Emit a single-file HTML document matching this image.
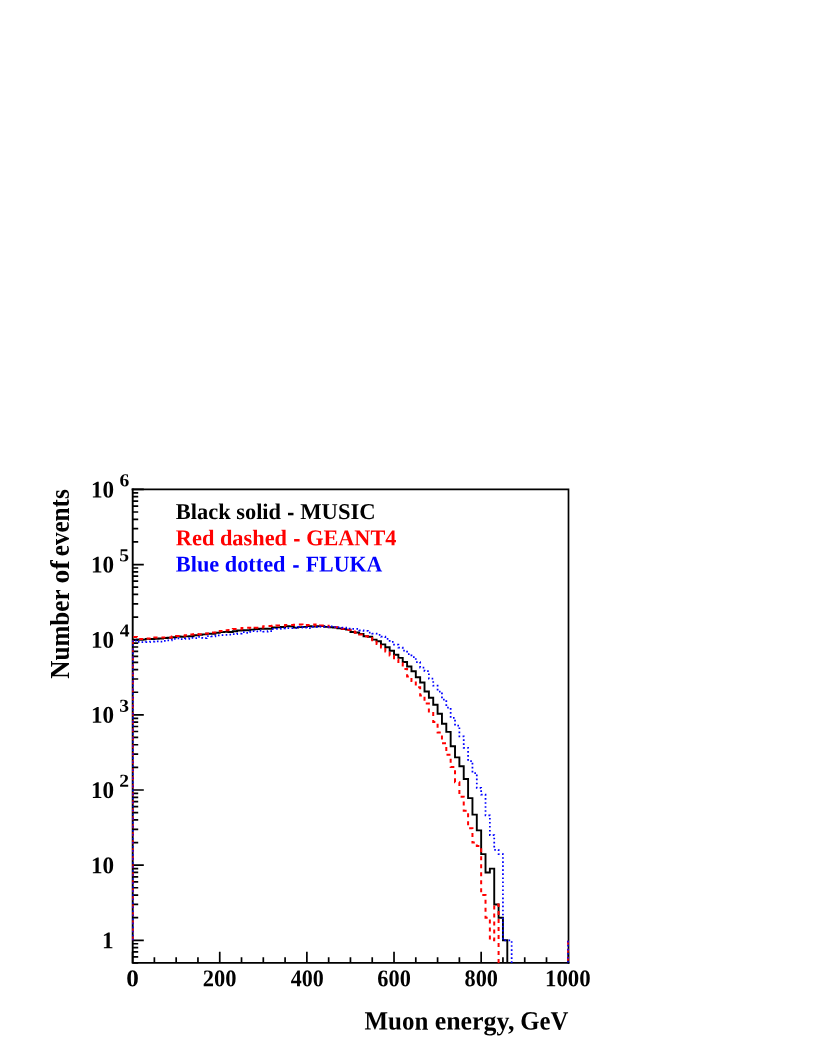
<!DOCTYPE html>
<html lang="en">
<head>
<meta charset="utf-8">
<title>Muon energy spectrum</title>
<style>
html,body{margin:0;padding:0;background:#fff;}
body{width:817px;height:1058px;overflow:hidden;font-family:"Liberation Serif",serif;}
svg{display:block;}
</style>
</head>
<body>
<svg width="817" height="1058" viewBox="0 0 817 1058">
<rect width="817" height="1058" fill="#fff"/>
<g fill="none" stroke="#000" stroke-width="1.9" stroke-linecap="butt">
<path d="M131.65 489.3 H568.5 V963.87" stroke-width="1.7"/>
<path d="M132.7 488.4 V962.92 H569.4" stroke-linejoin="miter"/>
<path d="M132.6 962.92h5.6M132.6 956.97h5.6M132.6 951.94h5.6M132.6 947.58h5.6M132.6 943.74h5.6M132.6 940.3h11.2M132.6 917.68h5.6M132.6 904.44h5.6M132.6 895.06h5.6M132.6 887.77h5.6M132.6 881.82h5.6M132.6 876.79h5.6M132.6 872.43h5.6M132.6 868.59h5.6M132.6 865.15h11.2M132.6 842.53h5.6M132.6 829.29h5.6M132.6 819.91h5.6M132.6 812.62h5.6M132.6 806.67h5.6M132.6 801.64h5.6M132.6 797.28h5.6M132.6 793.44h5.6M132.6 790h11.2M132.6 767.38h5.6M132.6 754.14h5.6M132.6 744.76h5.6M132.6 737.47h5.6M132.6 731.52h5.6M132.6 726.49h5.6M132.6 722.13h5.6M132.6 718.29h5.6M132.6 714.85h11.2M132.6 692.23h5.6M132.6 678.99h5.6M132.6 669.61h5.6M132.6 662.32h5.6M132.6 656.37h5.6M132.6 651.34h5.6M132.6 646.98h5.6M132.6 643.14h5.6M132.6 639.7h11.2M132.6 617.08h5.6M132.6 603.84h5.6M132.6 594.46h5.6M132.6 587.17h5.6M132.6 581.22h5.6M132.6 576.19h5.6M132.6 571.83h5.6M132.6 567.99h5.6M132.6 564.55h11.2M132.6 541.93h5.6M132.6 528.69h5.6M132.6 519.31h5.6M132.6 512.02h5.6M132.6 506.07h5.6M132.6 501.04h5.6M132.6 496.68h5.6M132.6 492.84h5.6M132.6 489.4h11.2" stroke-width="1.7"/>
<path d="M132.6 962.92v-11.2M154.38 962.92v-5.6M176.17 962.92v-5.6M197.95 962.92v-5.6M219.74 962.92v-11.2M241.52 962.92v-5.6M263.31 962.92v-5.6M285.09 962.92v-5.6M306.88 962.92v-11.2M328.66 962.92v-5.6M350.45 962.92v-5.6M372.23 962.92v-5.6M394.02 962.92v-11.2M415.8 962.92v-5.6M437.59 962.92v-5.6M459.38 962.92v-5.6M481.16 962.92v-11.2M502.94 962.92v-5.6M524.73 962.92v-5.6M546.51 962.92v-5.6M568.3 962.92v-11.2" stroke-width="1.7"/>
</g>
<g fill="none" stroke-linejoin="miter" stroke-linecap="butt">
<path d="M132.6 639.97 L136.96 639.97 L136.96 639.64 L141.31 639.64 L141.31 639.61 L145.67 639.61 L145.67 638.84 L150.03 638.84 L150.03 639.02 L154.38 639.02 L154.38 638.7 L158.74 638.7 L158.74 638.47 L163.1 638.47 L163.1 637.94 L167.46 637.94 L167.46 637.75 L171.81 637.75 L171.81 637.26 L176.17 637.26 L176.17 636.56 L180.53 636.56 L180.53 636.78 L184.88 636.78 L184.88 636.34 L189.24 636.34 L189.24 636.19 L193.6 636.19 L193.6 635.31 L197.95 635.31 L197.95 634.8 L202.31 634.8 L202.31 634.38 L206.67 634.38 L206.67 633.68 L211.03 633.68 L211.03 633.87 L215.38 633.87 L215.38 632.68 L219.74 632.68 L219.74 632.09 L224.1 632.09 L224.1 631.89 L228.45 631.89 L228.45 632.02 L232.81 632.02 L232.81 631.26 L237.17 631.26 L237.17 630.51 L241.52 630.51 L241.52 630.22 L245.88 630.22 L245.88 630.23 L250.24 630.23 L250.24 629.59 L254.6 629.59 L254.6 629.01 L258.95 629.01 L258.95 628.77 L263.31 628.77 L263.31 628.7 L267.67 628.7 L267.67 628.76 L272.02 628.76 L272.02 627.48 L276.38 627.48 L276.38 627.35 L280.74 627.35 L280.74 626.99 L285.09 626.99 L285.09 626.24 L289.45 626.24 L289.45 626.36 L293.81 626.36 L293.81 627.59 L298.17 627.59 L298.17 627.15 L302.52 627.15 L302.52 626.86 L306.88 626.86 L306.88 626.09 L311.24 626.09 L311.24 626.46 L315.59 626.46 L315.59 626.31 L319.95 626.31 L319.95 626.17 L324.31 626.17 L324.31 626.83 L328.66 626.83 L328.66 627.18 L333.02 627.18 L333.02 627.52 L337.38 627.52 L337.38 628.4 L341.74 628.4 L341.74 629 L346.09 629 L346.09 629.6 L350.45 629.6 L350.45 632 L354.81 632 L354.81 632.5 L359.16 632.5 L359.16 633.9 L363.52 633.9 L363.52 636.3 L367.88 636.3 L367.88 636.7 L372.23 636.7 L372.23 639.6 L376.59 639.6 L376.59 641.2 L380.95 641.2 L380.95 644.4 L385.31 644.4 L385.31 647.3 L389.66 647.3 L389.66 650.7 L394.02 650.7 L394.02 654.7 L398.38 654.7 L398.38 657.9 L402.73 657.9 L402.73 662 L407.09 662 L407.09 666.5 L411.45 666.5 L411.45 671.3 L415.8 671.3 L415.8 677.3 L420.16 677.3 L420.16 682.5 L424.52 682.5 L424.52 691.5 L428.88 691.5 L428.88 697.8 L433.23 697.8 L433.23 704.8 L437.59 704.8 L437.59 713.8 L441.95 713.8 L441.95 723.8 L446.3 723.8 L446.3 731.9 L450.66 731.9 L450.66 746.2 L455.02 746.2 L455.02 757.4 L459.38 757.4 L459.38 766.2 L463.73 766.2 L463.73 779 L468.09 779 L468.09 798.1 L472.45 798.1 L472.45 814.64 L476.8 814.64 L476.8 830.4 L481.16 830.4 L481.16 854.17 L485.52 854.17 L485.52 872.43 L489.87 872.43 L489.87 868.59 L494.23 868.59 L494.23 904.44 L498.59 904.44 L498.59 917.68 L502.94 917.68 L502.94 940.3 L507.3 940.3 L507.3 962.92" stroke="#000" stroke-width="1.9"/>
<path d="M132.95 940.3V637" stroke="#f00" stroke-width="1.45" stroke-dasharray="4.0 4.0"/>
<path d="M132.6 637 L136.96 637 L136.96 639.11 L141.31 639.11 L141.31 639.05 L145.67 639.05 L145.67 638.58 L150.03 638.58 L150.03 638.46 L154.38 638.46 L154.38 637.49 L158.74 637.49 L158.74 637.6 L163.1 637.6 L163.1 637.45 L167.46 637.45 L167.46 637.52 L171.81 637.52 L171.81 636.54 L176.17 636.54 L176.17 635.88 L180.53 635.88 L180.53 635.87 L184.88 635.87 L184.88 635.37 L189.24 635.37 L189.24 634.6 L193.6 634.6 L193.6 634.11 L197.95 634.11 L197.95 634.21 L202.31 634.21 L202.31 633.49 L206.67 633.49 L206.67 633.46 L211.03 633.46 L211.03 632.49 L215.38 632.49 L215.38 631.6 L219.74 631.6 L219.74 630.99 L224.1 630.99 L224.1 630.15 L228.45 630.15 L228.45 629.97 L232.81 629.97 L232.81 629.06 L237.17 629.06 L237.17 629.14 L241.52 629.14 L241.52 628 L245.88 628 L245.88 627.81 L250.24 627.81 L250.24 628.26 L254.6 628.26 L254.6 627.87 L258.95 627.87 L258.95 627.39 L263.31 627.39 L263.31 626.14 L267.67 626.14 L267.67 626.05 L272.02 626.05 L272.02 625.87 L276.38 625.87 L276.38 625.53 L280.74 625.53 L280.74 625.63 L285.09 625.63 L285.09 625.01 L289.45 625.01 L289.45 624.9 L293.81 624.9 L293.81 624.74 L298.17 624.74 L298.17 624.59 L302.52 624.59 L302.52 625.4 L306.88 625.4 L306.88 624.98 L311.24 624.98 L311.24 624.56 L315.59 624.56 L315.59 625.72 L319.95 625.72 L319.95 625.51 L324.31 625.51 L324.31 625.77 L328.66 625.77 L328.66 627.02 L333.02 627.02 L333.02 627.22 L337.38 627.22 L337.38 628.14 L341.74 628.14 L341.74 628.76 L346.09 628.76 L346.09 629.97 L350.45 629.97 L350.45 631.59 L354.81 631.59 L354.81 632.71 L359.16 632.71 L359.16 634.5 L363.52 634.5 L363.52 636.3 L367.88 636.3 L367.88 636.8 L372.23 636.8 L372.23 640.3 L376.59 640.3 L376.59 644 L380.95 644 L380.95 647.6 L385.31 647.6 L385.31 651.5 L389.66 651.5 L389.66 655.5 L394.02 655.5 L394.02 659.5 L398.38 659.5 L398.38 663.2 L402.73 663.2 L402.73 668.9 L407.09 668.9 L407.09 676.5 L411.45 676.5 L411.45 681 L415.8 681 L415.8 687.2 L420.16 687.2 L420.16 695.5 L424.52 695.5 L424.52 703.6 L428.88 703.6 L428.88 711.5 L433.23 711.5 L433.23 722 L437.59 722 L437.59 732.6 L441.95 732.6 L441.95 743.3 L446.3 743.3 L446.3 754.85 L450.66 754.85 L450.66 767 L455.02 767 L455.02 782.3 L459.38 782.3 L459.38 796.75 L463.73 796.75 L463.73 810.7 L468.09 810.7 L468.09 828.2 L472.45 828.2 L472.45 842.53 L476.8 842.53 L476.8 845.97 L481.16 845.97 L481.16 895.06 L485.52 895.06 L485.52 917.68 L489.87 917.68 L489.87 940.3 L494.23 940.3 L494.23 904.44 L498.59 904.44 L498.59 962.92" stroke="#f00" stroke-width="2.0" stroke-dasharray="4.0 4.0" stroke-dashoffset="7.3"/>
<path d="M132.95 940.3V640.55" stroke="#00f" stroke-width="1.45" stroke-dasharray="1.6 2.43"/>
<path d="M132.6 640.55 L136.96 640.55 L136.96 641.8 L141.31 641.8 L141.31 642.13 L145.67 642.13 L145.67 642.11 L150.03 642.11 L150.03 641.64 L154.38 641.64 L154.38 641.35 L158.74 641.35 L158.74 641.63 L163.1 641.63 L163.1 640.96 L167.46 640.96 L167.46 640.37 L171.81 640.37 L171.81 638.92 L176.17 638.92 L176.17 638.43 L180.53 638.43 L180.53 639.17 L184.88 639.17 L184.88 638.79 L189.24 638.79 L189.24 637.85 L193.6 637.85 L193.6 638.11 L197.95 638.11 L197.95 636.92 L202.31 636.92 L202.31 638.14 L206.67 638.14 L206.67 636.11 L211.03 636.11 L211.03 636.33 L215.38 636.33 L215.38 635.26 L219.74 635.26 L219.74 635.01 L224.1 635.01 L224.1 634.95 L228.45 634.95 L228.45 634.71 L232.81 634.71 L232.81 634.15 L237.17 634.15 L237.17 633.56 L241.52 633.56 L241.52 632.13 L245.88 632.13 L245.88 632.8 L250.24 632.8 L250.24 631.14 L254.6 631.14 L254.6 631.42 L258.95 631.42 L258.95 630.62 L263.31 630.62 L263.31 631.61 L267.67 631.61 L267.67 631.13 L272.02 631.13 L272.02 628.93 L276.38 628.93 L276.38 628.82 L280.74 628.82 L280.74 628.26 L285.09 628.26 L285.09 628.15 L289.45 628.15 L289.45 628.09 L293.81 628.09 L293.81 628.18 L298.17 628.18 L298.17 626.86 L302.52 626.86 L302.52 627.74 L306.88 627.74 L306.88 628 L311.24 628 L311.24 626.97 L315.59 626.97 L315.59 627.01 L319.95 627.01 L319.95 626.57 L324.31 626.57 L324.31 626.85 L328.66 626.85 L328.66 626.27 L333.02 626.27 L333.02 627.03 L337.38 627.03 L337.38 627.47 L341.74 627.47 L341.74 627.66 L346.09 627.66 L346.09 628.51 L350.45 628.51 L350.45 628.95 L354.81 628.95 L354.81 628.95 L359.16 628.95 L359.16 630.4 L363.52 630.4 L363.52 630.8 L367.88 630.8 L367.88 632.6 L372.23 632.6 L372.23 633.7 L376.59 633.7 L376.59 634.8 L380.95 634.8 L380.95 636.7 L385.31 636.7 L385.31 638.9 L389.66 638.9 L389.66 641.8 L394.02 641.8 L394.02 644.6 L398.38 644.6 L398.38 647.6 L402.73 647.6 L402.73 650.7 L407.09 650.7 L407.09 654 L411.45 654 L411.45 657 L415.8 657 L415.8 662 L420.16 662 L420.16 667.5 L424.52 667.5 L424.52 671.1 L428.88 671.1 L428.88 678.7 L433.23 678.7 L433.23 685.7 L437.59 685.7 L437.59 691.5 L441.95 691.5 L441.95 699.5 L446.3 699.5 L446.3 707.5 L450.66 707.5 L450.66 717.8 L455.02 717.8 L455.02 725.5 L459.38 725.5 L459.38 736.4 L463.73 736.4 L463.73 747.8 L468.09 747.8 L468.09 761 L472.45 761 L472.45 773 L476.8 773 L476.8 787.79 L481.16 787.79 L481.16 794.55 L485.52 794.55 L485.52 815.34 L489.87 815.34 L489.87 835.24 L494.23 835.24 L494.23 849.81 L498.59 849.81 L498.59 854.17 L502.94 854.17 L502.94 940.3 L507.3 940.3 L507.3 940.3 L511.66 940.3 L511.66 962.92" stroke="#00f" stroke-width="1.75" stroke-dasharray="1.6 2.43" stroke-dashoffset="1.53"/>
<path d="M568 940.8 V962.92" stroke="#f00" stroke-width="1.6" stroke-dasharray="4 4"/>
<path d="M568 940.8 V962.92" stroke="#00f" stroke-width="1.6" stroke-dasharray="1.6 2.43"/>
</g>
<g font-family="'Liberation Serif', serif" font-weight="bold" opacity="0.999">
<text transform="translate(102.04 948.3) rotate(0.03) scale(0.9685 1)" font-size="24" fill="#000">1</text>
<text transform="translate(91.05 873.15) rotate(0.03) scale(0.9632 1)" font-size="24" fill="#000">10</text>
<text transform="translate(91.05 798) rotate(0.03) scale(0.9632 1)" font-size="24" fill="#000">10</text>
<text transform="translate(119.27 786.8) rotate(0.03) scale(1.0700 1)" font-size="18.3" fill="#000">2</text>
<text transform="translate(91.05 722.85) rotate(0.03) scale(0.9632 1)" font-size="24" fill="#000">10</text>
<text transform="translate(119.37 711.65) rotate(0.03) scale(1.0700 1)" font-size="18.3" fill="#000">3</text>
<text transform="translate(91.05 647.7) rotate(0.03) scale(0.9632 1)" font-size="24" fill="#000">10</text>
<text transform="translate(119.86 636.5) rotate(0.03) scale(1.0700 1)" font-size="18.3" fill="#000">4</text>
<text transform="translate(91.05 572.55) rotate(0.03) scale(0.9632 1)" font-size="24" fill="#000">10</text>
<text transform="translate(119.32 561.35) rotate(0.03) scale(1.0700 1)" font-size="18.3" fill="#000">5</text>
<text transform="translate(91.05 497.4) rotate(0.03) scale(0.9632 1)" font-size="24" fill="#000">10</text>
<text transform="translate(119.46 486.2) rotate(0.03) scale(1.0700 1)" font-size="18.3" fill="#000">6</text>
<text transform="translate(126.31 986.3) rotate(0.03) scale(1.0490 1)" font-size="24" fill="#000">0</text>
<text transform="translate(202.84 986.3) rotate(0.03) scale(0.9360 1)" font-size="24" fill="#000">200</text>
<text transform="translate(290.66 986.3) rotate(0.03) scale(0.9167 1)" font-size="24" fill="#000">400</text>
<text transform="translate(377.34 986.3) rotate(0.03) scale(0.9295 1)" font-size="24" fill="#000">600</text>
<text transform="translate(464.48 986.3) rotate(0.03) scale(0.9295 1)" font-size="24" fill="#000">800</text>
<text transform="translate(544.97 986.3) rotate(0.03) scale(0.9517 1)" font-size="24" fill="#000">1000</text>
<text transform="translate(364.56 1029.6) rotate(0.03) scale(0.9451 1)" font-size="26.4" fill="#000">Muon</text>
<text transform="translate(434.66 1029.6) rotate(0.03) scale(0.9808 1)" font-size="26.4" fill="#000">energy,</text>
<text transform="translate(520.22 1029.6) rotate(0.03) scale(0.9372 1)" font-size="26.4" fill="#000">GeV</text>
<text transform="translate(68.5 678.74) rotate(-90) scale(0.9520 1)" font-size="26.4" fill="#000">Number</text>
<text transform="translate(68.5 583.44) rotate(-90) scale(1.0493 1)" font-size="26.4" fill="#000">of</text>
<text transform="translate(68.5 556.22) rotate(-90) scale(0.9506 1)" font-size="26.4" fill="#000">events</text>
<text transform="translate(175.86 519) rotate(0.03) scale(0.9964 1)" font-size="22.5" fill="#000">Black solid</text>
<text transform="translate(300.2 519) rotate(0.03) scale(1.0061 1)" font-size="22.5" fill="#000">MUSIC</text>
<rect x="288" y="512.8" width="5.5" height="2.5" fill="#000"/>
<text transform="translate(175.81 545.2) rotate(0.03) scale(0.9940 1)" font-size="22.5" fill="#f00">Red dashed</text>
<text transform="translate(306.14 545.2) rotate(0.03) scale(0.9891 1)" font-size="22.5" fill="#f00">GEANT4</text>
<rect x="294.1" y="539" width="5.5" height="2.5" fill="#f00"/>
<text transform="translate(175.87 571.4) rotate(0.03) scale(0.9916 1)" font-size="22.5" fill="#00f">Blue dotted</text>
<text transform="translate(305.72 571.4) rotate(0.03) scale(0.9720 1)" font-size="22.5" fill="#00f">FLUKA</text>
<rect x="293.2" y="565.2" width="5.5" height="2.5" fill="#00f"/>
</g>
</svg>
</body>
</html>
